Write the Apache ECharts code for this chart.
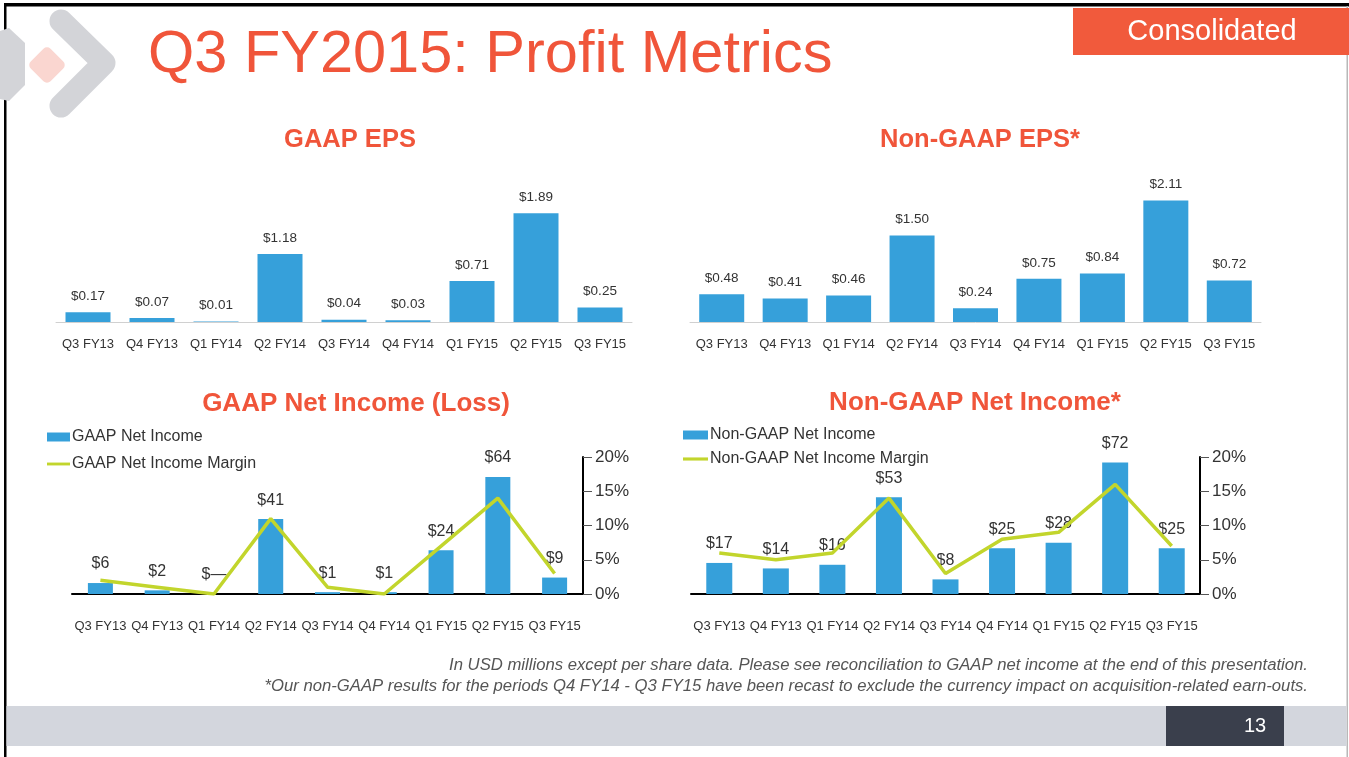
<!DOCTYPE html>
<html>
<head>
<meta charset="utf-8">
<script src="https://cdn.jsdelivr.net/npm/echarts@6/dist/echarts.min.js"></script>
<style>
  html, body { margin: 0; padding: 0; background: #fff; }
  #main { width: 1349px; height: 757px; }
</style>
</head>
<body>
<div id="main"></div>
<script>
var quarters = ['Q3 FY13', 'Q4 FY13', 'Q1 FY14', 'Q2 FY14', 'Q3 FY14', 'Q4 FY14', 'Q1 FY15', 'Q2 FY15', 'Q3 FY15'];
var gaapEps = [0.17, 0.07, 0.01, 1.18, 0.04, 0.03, 0.71, 1.89, 0.25];
var nonGaapEps = [0.48, 0.41, 0.46, 1.50, 0.24, 0.75, 0.84, 2.11, 0.72];
var gaapNetIncome = [6, 2, 0, 41, 1, 1, 24, 64, 9];
var gaapMargin = [2, 1, 0, 11, 1, 0, 7, 14, 3];
var nonGaapNetIncome = [17, 14, 16, 53, 8, 25, 28, 72, 25];
var nonGaapMargin = [6, 5, 6, 14, 3, 8, 9, 16, 7];

var RED = '#f0553a';
var BLUE = '#36a0da';
var LIME = '#c2d52c';
var FONT = "'Liberation Sans', Arial, sans-serif";
var LINE_ICON = 'path://M0,0 L24,0 L24,3 L0,3 Z';

function epsLabel(p) { return '$' + p.value.toFixed(2); }
function niLabel(p) { return p.value === 0 ? '$\u2014' : '$' + p.value; }

function topXAxis(idx) {
    return {
        type: 'category', gridIndex: idx, data: quarters,
        axisLine: { lineStyle: { color: '#d0d0d0', width: 1 } },
        axisTick: { show: false },
        axisLabel: { color: '#333', fontSize: 13, margin: 16, fontFamily: FONT, interval: 0 }
    };
}
function bottomXAxis(idx) {
    return {
        type: 'category', gridIndex: idx, data: quarters,
        axisLine: { lineStyle: { color: '#000', width: 2 } },
        axisTick: { alignWithLabel: true, length: 9, lineStyle: { color: '#999' } },
        axisLabel: { color: '#333', fontSize: 13, margin: 26, fontFamily: FONT, interval: 0 }
    };
}
function pctAxis(idx) {
    return {
        type: 'value', gridIndex: idx, position: 'right', min: 0, max: 20, interval: 5,
        axisLine: { show: true, lineStyle: { color: '#000', width: 2 } },
        axisTick: { show: true, length: 9, lineStyle: { color: '#555' } },
        axisLabel: { color: '#333', fontSize: 17, margin: 12, fontFamily: FONT, formatter: '{value}%' },
        splitLine: { show: false }
    };
}
function hiddenAxis(idx, max) {
    return { type: 'value', gridIndex: idx, min: 0, max: max, show: false, splitLine: { show: false } };
}

function centeredText(x, y, text, size, color) {
    return {
        type: 'text', x: x, y: y, z: 10,
        style: { text: text, fill: color, font: 'bold ' + size + 'px ' + FONT,
                 align: 'center', verticalAlign: 'middle', textAlign: 'center', textVerticalAlign: 'middle' }
    };
}

var option = {
    backgroundColor: '#fff',
    animation: false,
    textStyle: { fontFamily: FONT },
    grid: [
        { left: 56, top: 178, width: 576, height: 144 },
        { left: 690, top: 178, width: 571, height: 144 },
        { left: 72, top: 457, width: 511, height: 137 },
        { left: 691, top: 457, width: 509, height: 137 }
    ],
    xAxis: [topXAxis(0), topXAxis(1), bottomXAxis(2), bottomXAxis(3)],
    yAxis: [hiddenAxis(0, 2.5), hiddenAxis(1, 2.5), hiddenAxis(2, 75), pctAxis(2), hiddenAxis(3, 75), pctAxis(3)],
    legend: [
        {
            left: 47, top: 429, padding: 0, orient: 'vertical', itemGap: 11, itemWidth: 23, itemHeight: 9,
            textStyle: { color: '#333', fontSize: 16, fontFamily: FONT, padding: [0, 0, 0, -3] },
            data: [{ name: 'GAAP Net Income', icon: 'rect' }, { name: 'GAAP Net Income Margin', icon: LINE_ICON }]
        },
        {
            left: 683, top: 427, padding: 0, orient: 'vertical', itemGap: 8, itemWidth: 25, itemHeight: 9,
            textStyle: { color: '#333', fontSize: 16, fontFamily: FONT, padding: [0, 0, 0, -3] },
            data: [{ name: 'Non-GAAP Net Income', icon: 'rect' }, { name: 'Non-GAAP Net Income Margin', icon: LINE_ICON }]
        }
    ],
    series: [
        {
            type: 'bar', name: 'GAAP EPS', xAxisIndex: 0, yAxisIndex: 0, data: gaapEps, barWidth: 45,
            itemStyle: { color: BLUE },
            label: { show: true, position: 'top', distance: 9, color: '#333', fontSize: 13.5, formatter: epsLabel }
        },
        {
            type: 'bar', name: 'Non-GAAP EPS', xAxisIndex: 1, yAxisIndex: 1, data: nonGaapEps, barWidth: 45,
            itemStyle: { color: BLUE },
            label: { show: true, position: 'top', distance: 9, color: '#333', fontSize: 13.5, formatter: epsLabel }
        },
        {
            type: 'bar', name: 'GAAP Net Income', xAxisIndex: 2, yAxisIndex: 2, data: gaapNetIncome, barWidth: 25,
            itemStyle: { color: BLUE },
            label: { show: true, position: 'top', distance: 11, color: '#333', fontSize: 16, formatter: niLabel }
        },
        {
            type: 'line', name: 'GAAP Net Income Margin', xAxisIndex: 2, yAxisIndex: 3, data: gaapMargin,
            symbol: 'none', z: 5, lineStyle: { color: LIME, width: 3.5 }, itemStyle: { color: LIME }
        },
        {
            type: 'bar', name: 'Non-GAAP Net Income', xAxisIndex: 3, yAxisIndex: 4, data: nonGaapNetIncome, barWidth: 26,
            itemStyle: { color: BLUE },
            label: { show: true, position: 'top', distance: 11, color: '#333', fontSize: 16, formatter: niLabel }
        },
        {
            type: 'line', name: 'Non-GAAP Net Income Margin', xAxisIndex: 3, yAxisIndex: 5, data: nonGaapMargin,
            symbol: 'none', z: 5, lineStyle: { color: LIME, width: 3.5 }, itemStyle: { color: LIME }
        }
    ],
    graphic: [
        // slide frame: black top and left edge, faint right edge
        { type: 'rect', shape: { x: 4, y: 3, width: 1345, height: 3.5 }, style: { fill: '#000' } },
        { type: 'rect', shape: { x: 4, y: 3, width: 2.5, height: 754 }, style: { fill: '#000' } },
        { type: 'rect', shape: { x: 1346.5, y: 6, width: 1.5, height: 751 }, style: { fill: '#b8b8b8' } },
        // logo
        { type: 'polygon', shape: { points: [[0, 31], [9, 28], [25, 43], [25, 85], [9, 101], [0, 99]] }, style: { fill: '#d3d4d8' } },
        { type: 'polyline', shape: { points: [[61, 21], [104, 63], [61, 106]] }, style: { stroke: '#d3d4d8', lineWidth: 23, lineCap: 'round', lineJoin: 'round', fill: 'none' } },
        { type: 'rect', x: 47, y: 65, rotation: Math.PI / 4, shape: { x: -14, y: -14, width: 28, height: 28, r: 5 }, style: { fill: '#fad6d0' } },
        // main title
        {
            type: 'text', x: 148, y: 56,
            style: { text: 'Q3 FY2015: Profit Metrics', fill: RED, font: '59.5px ' + FONT, verticalAlign: 'middle', textVerticalAlign: 'middle' }
        },
        // consolidated tag
        { type: 'rect', shape: { x: 1073, y: 8, width: 276, height: 47 }, style: { fill: '#f15a3c' } },
        {
            type: 'text', x: 1212, y: 32, z: 10,
            style: { text: 'Consolidated', fill: '#fff', font: '29px ' + FONT, align: 'center', verticalAlign: 'middle', textAlign: 'center', textVerticalAlign: 'middle' }
        },
        // chart titles
        centeredText(350, 140, 'GAAP EPS', 25.5, RED),
        centeredText(980, 140, 'Non-GAAP EPS*', 25.5, RED),
        centeredText(356, 404, 'GAAP Net Income (Loss)', 26, RED),
        centeredText(975, 403, 'Non-GAAP Net Income*', 26, RED),
        // notes
        {
            type: 'text', x: 1308, y: 665,
            style: { text: 'In USD millions except per share data. Please see reconciliation to GAAP net income at the end of this presentation.',
                     fill: '#555', font: 'italic 16.7px ' + FONT, align: 'right', verticalAlign: 'middle', textAlign: 'right', textVerticalAlign: 'middle' }
        },
        {
            type: 'text', x: 1308, y: 686,
            style: { text: '*Our non-GAAP results for the periods Q4 FY14 - Q3 FY15 have been recast to exclude the currency impact on acquisition-related earn-outs.',
                     fill: '#555', font: 'italic 16.7px ' + FONT, align: 'right', verticalAlign: 'middle', textAlign: 'right', textVerticalAlign: 'middle' }
        },
        // footer
        { type: 'rect', shape: { x: 6.5, y: 706, width: 1340, height: 40 }, style: { fill: '#d3d6dd' } },
        { type: 'rect', shape: { x: 1166, y: 706, width: 118, height: 40 }, style: { fill: '#3a3f4c' } },
        {
            type: 'text', x: 1255, y: 726,
            style: { text: '13', fill: '#fff', font: '20px ' + FONT, align: 'center', verticalAlign: 'middle', textAlign: 'center', textVerticalAlign: 'middle' }
        }
    ]
};

var myChart = echarts.init(document.getElementById('main'));
myChart.setOption(option);
</script>
</body>
</html>
